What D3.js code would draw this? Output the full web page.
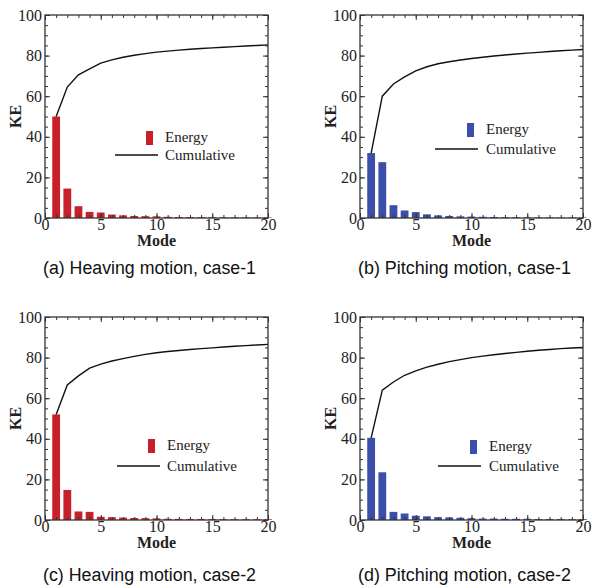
<!DOCTYPE html>
<html><head><meta charset="utf-8">
<script src="https://cdn.jsdelivr.net/npm/d3@7"></script>
<style>body{margin:0;background:#fff;} svg{display:block;}</style>
</head><body>
<script>
const modes = d3.range(1, 21);
const xTicks = [0, 5, 10, 15, 20];
const yTicks = [0, 20, 40, 60, 80, 100];
const captions = ["(a) Heaving motion, case-1", "(b) Pitching motion, case-1", "(c) Heaving motion, case-2", "(d) Pitching motion, case-2"];
const legendLabels = ["Energy", "Cumulative"];

const energyA = [50, 14.5, 5.8, 3.0, 2.7, 1.7, 1.3, 1.0, 0.9, 0.8, 0.6, 0.5, 0.45, 0.4, 0.35, 0.3, 0.3, 0.3, 0.25, 0.25];
const cumulativeA = [50, 64.5, 70.5, 73.5, 76.3, 77.9, 79.2, 80.2, 81.0, 81.7, 82.2, 82.7, 83.1, 83.5, 83.8, 84.1, 84.4, 84.7, 85.0, 85.3];
const energyB = [32, 27.5, 6.3, 3.7, 2.9, 1.8, 1.3, 1.0, 0.8, 0.7, 0.6, 0.5, 0.4, 0.35, 0.3, 0.3, 0.3, 0.25, 0.25, 0.2];
const cumulativeB = [32, 60, 66, 69.5, 72.5, 74.5, 76, 77, 77.8, 78.6, 79.2, 79.8, 80.3, 80.8, 81.2, 81.6, 82, 82.4, 82.7, 83];
const energyC = [52, 14.8, 4.2, 4.0, 1.6, 1.4, 1.2, 1.0, 0.9, 0.8, 0.6, 0.55, 0.5, 0.5, 0.45, 0.4, 0.4, 0.4, 0.35, 0.35];
const cumulativeC = [52, 66.5, 71, 74.8, 76.8, 78.3, 79.5, 80.6, 81.6, 82.4, 83, 83.5, 84, 84.4, 84.8, 85.2, 85.6, 85.9, 86.2, 86.5];
const energyD = [40.5, 23.5, 4.0, 3.2, 2.1, 1.8, 1.4, 1.3, 1.1, 0.9, 0.7, 0.7, 0.6, 0.6, 0.6, 0.5, 0.5, 0.5, 0.4, 0.4];
const cumulativeD = [40.5, 64, 68, 71.3, 73.5, 75.3, 76.7, 78, 79, 80, 80.7, 81.4, 82, 82.6, 83.1, 83.6, 84, 84.4, 84.7, 85];

const RED = "#c8202a", BLUE = "#3b4fa8";
const panels = [
  {energy: energyA, cum: cumulativeA, color: RED, left: 45, top: 15, capY: 274, leg: {rx: 101, ry: 116, ly: 140, lx0: 70}},
  {energy: energyB, cum: cumulativeB, color: BLUE, left: 360, top: 15, capY: 274, leg: {rx: 107, ry: 108, ly: 134, lx0: 75}},
  {energy: energyC, cum: cumulativeC, color: RED, left: 45, top: 317, capY: 581, leg: {rx: 103, ry: 122, ly: 149, lx0: 72}},
  {energy: energyD, cum: cumulativeD, color: BLUE, left: 360, top: 317, capY: 581, leg: {rx: 110, ry: 123, ly: 149, lx0: 78}}
];
const W = 223, H = 203;

const svg = d3.select("body").append("svg").attr("width", 592).attr("height", 588);
const serif = "Liberation Serif, Times New Roman, serif";

panels.forEach((p, i) => {
  const g = svg.append("g").attr("transform", `translate(${p.left},${p.top})`);
  const x = d3.scaleLinear().domain([0, 20]).range([0, W]);
  const y = d3.scaleLinear().domain([0, 100]).range([H, 0]);
  const bw = x(0.7) - x(0);

  g.selectAll("rect.bar").data(modes).enter().append("rect")
    .attr("x", d => x(d) - bw / 2).attr("width", bw)
    .attr("y", (d, j) => y(p.energy[j])).attr("height", (d, j) => y(0) - y(p.energy[j]))
    .attr("fill", p.color);

  const line = d3.line().x((d, j) => x(modes[j])).y(d => y(d));
  g.append("path").datum(p.cum).attr("d", line).attr("fill", "none").attr("stroke", "#111").attr("stroke-width", 1.4);

  // axes
  const styleAxis = sel => {
    sel.attr("font-family", serif).attr("font-size", 16);
    sel.select(".domain").remove();
    sel.selectAll("line").attr("stroke", "#333").attr("stroke-width", 1);
    sel.selectAll("text").style("font-family", serif).style("font-size", "16px").attr("fill", "#222");
  };
  g.append("g").attr("transform", `translate(0,${H})`)
    .call(d3.axisBottom(x).tickValues(xTicks).tickSize(-5).tickPadding(1).tickFormat(d3.format("d"))).call(styleAxis);
  g.append("g").attr("transform", `translate(0,${H})`)
    .call(d3.axisBottom(x).tickValues(d3.range(0, 21)).tickSize(-3).tickFormat("")).call(styleAxis);
  g.append("g").call(d3.axisTop(x).tickValues(xTicks).tickSize(-5).tickFormat("")).call(styleAxis);
  g.append("g").call(d3.axisTop(x).tickValues(d3.range(0, 21)).tickSize(-3).tickFormat("")).call(styleAxis);
  g.append("g").call(d3.axisLeft(y).tickValues(yTicks).tickSize(-5).tickPadding(3).tickFormat(d3.format("d"))).call(styleAxis);
  g.append("g").call(d3.axisLeft(y).tickValues(d3.range(0, 101, 5)).tickSize(-3).tickFormat("")).call(styleAxis);
  g.append("g").attr("transform", `translate(${W},0)`).call(d3.axisRight(y).tickValues(yTicks).tickSize(-5).tickFormat("")).call(styleAxis);
  g.append("g").attr("transform", `translate(${W},0)`).call(d3.axisRight(y).tickValues(d3.range(0, 101, 5)).tickSize(-3).tickFormat("")).call(styleAxis);

  g.append("rect").attr("width", W).attr("height", H).attr("fill", "none").attr("stroke", "#333").attr("stroke-width", 1.3);

  // axis titles
  g.append("text").attr("x", W / 2).attr("y", H + 28).attr("text-anchor", "middle")
    .style("font-family", serif).attr("font-weight", "bold").attr("font-size", 16).attr("fill", "#222").text("Mode");
  g.append("text").attr("transform", `translate(-24,${H / 2}) rotate(-90)`).attr("text-anchor", "middle")
    .style("font-family", serif).attr("font-weight", "bold").attr("font-size", 16).attr("fill", "#222").text("KE");

  // legend
  const L = p.leg;
  g.append("rect").attr("x", L.rx).attr("y", L.ry).attr("width", 7).attr("height", 14).attr("fill", p.color);
  g.append("text").attr("x", L.rx + 19).attr("y", L.ry + 11).style("font-family", serif).attr("font-size", 15).attr("fill", "#222").text(legendLabels[0]);
  g.append("line").attr("x1", L.lx0).attr("x2", L.lx0 + 43).attr("y1", L.ly).attr("y2", L.ly).attr("stroke", "#111").attr("stroke-width", 1.4);
  g.append("text").attr("x", L.rx + 19).attr("y", L.ly + 5).style("font-family", serif).attr("font-size", 15).attr("fill", "#222").text(legendLabels[1]);

  // caption
  svg.append("text").attr("x", p.left + W / 2 - 7).attr("y", p.capY).attr("text-anchor", "middle")
    .style("font-family", "Liberation Sans, Arial, sans-serif").attr("font-size", 18).attr("fill", "#111")
    .attr("textLength", 213).attr("lengthAdjust", "spacingAndGlyphs").text(captions[i]);
});
</script>
</body></html>
